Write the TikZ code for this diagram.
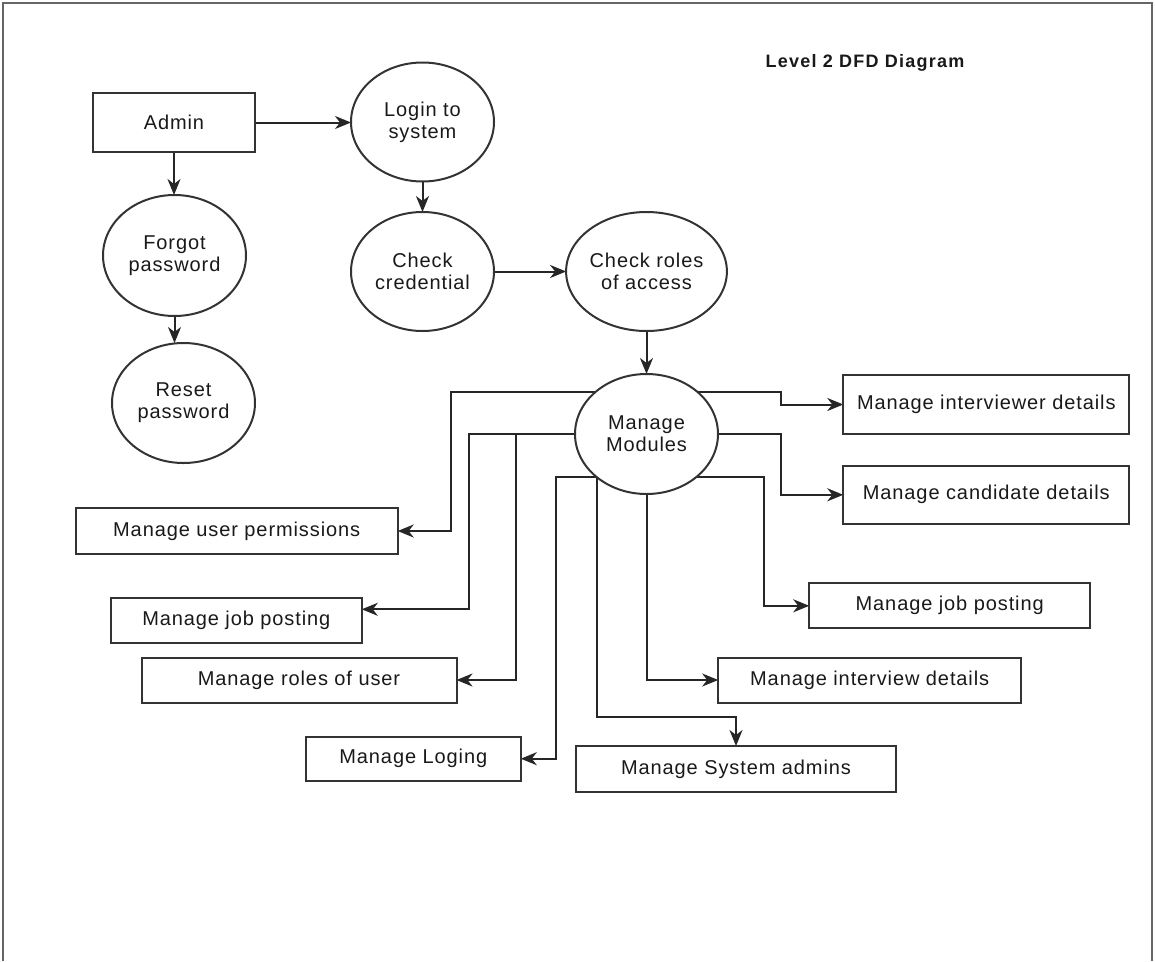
\documentclass[tikz,border=0pt]{standalone}
\usepackage{fontspec}
\setmainfont[LetterSpace=4.5]{Liberation Sans}
\usetikzlibrary{shapes.geometric,arrows.meta,calc}
\pgfdeclarelayer{background}
\pgfsetlayers{background,main}

\tikzset{
  base/.style={draw=black!80, line width=2pt, fill=white, text=black!90,
    font=\fontsize{20}{21.7}\selectfont, align=center, inner sep=0pt, outer sep=0pt},
  proc/.style={base, ellipse, minimum width=143pt, minimum height=120pt},
  ent/.style={base, rectangle},
  flow/.style={draw=black!85, line width=2pt,
    -{Stealth[length=16pt,width=13pt,inset=5pt]}},
}

\begin{document}
\begin{tikzpicture}[x=1pt, y=-1pt]
\useasboundingbox (0,0) rectangle (1155,961);

% open frame round the sheet
\draw[black!60, line width=2.2pt] (3,961) -- (3,3) -- (1152,3) -- (1152,961);

\node[font=\bfseries\fontsize{18}{20}\selectfont\addfontfeature{LetterSpace=7}, text=black!90] (title) at (865,63) {Level 2 DFD Diagram};

% entry and authentication processes
\node[ent, minimum width=162pt, minimum height=59pt] (admin) at (174,122.5) {Admin};
\node[proc, minimum height=119pt] (login) at (422.5,122) {Login to\\system};
\node[proc, minimum height=121pt] (forgot) at (174.5,255.5) {Forgot\\password};
\node[proc] (reset) at (183.5,403) {Reset\\password};
\node[proc, minimum height=119pt] (cred) at (422.5,271.5) {Check\\credential};
\node[proc, minimum height=119pt] (roles) at (646.5,271.5) {Check roles\\of access};
\node[proc] (modules) at (646.5,434) {Manage\\Modules};

% managed modules
\node[ent, minimum width=322pt, minimum height=46pt] (userperm) at (236.7,531) {Manage user permissions};
\node[ent, minimum width=251pt, minimum height=45pt] (jobL) at (236.3,620.3) {Manage job posting};
\node[ent, minimum width=315pt, minimum height=45pt] (rolesuser) at (299,680) {Manage roles of user};
\node[ent, minimum width=215pt, minimum height=44pt] (loging) at (413.3,758.7) {Manage Loging};
\node[ent, minimum width=320pt, minimum height=46pt] (sysadm) at (736,769) {Manage System admins};
\node[ent, minimum width=303pt, minimum height=45pt] (intdet) at (869.7,680) {Manage interview details};
\node[ent, minimum width=281pt, minimum height=45pt] (jobR) at (949.7,605.8) {Manage job posting};
\node[ent, minimum width=286pt, minimum height=58pt] (cand) at (986.3,494.8) {Manage candidate details};
\node[ent, minimum width=286pt, minimum height=59pt] (intvw) at (986.3,404.5) {Manage interviewer details};

% bend points of the module connectors
\coordinate (b1) at (451,392);
\coordinate (b2) at (469,434);
\coordinate (b3) at (516,434);
\coordinate (b4) at (556,476.7);
\coordinate (b7) at (764,476.7);
\coordinate (b8) at (780.7,434);
\coordinate (b9) at (780.7,392);

\begin{pgfonlayer}{background}
  \draw[flow] (admin.east) -- (admin.east -| login.west);
  \draw[flow] (admin.south) -- (admin.south |- forgot.north);
  \draw[flow] (forgot.south) -- (forgot.south |- reset.north);
  \draw[flow] (login.south) -- (cred.north);
  \draw[flow] (cred.east) -- (roles.west);
  \draw[flow] (roles.south) -- (modules.north);

  \draw[flow] ([yshift=42pt]modules.center) -- (b1) |- (userperm.east);
  \draw[flow] (modules.center) -- (b2) |- ([yshift=11pt]jobL.east);
  \draw[flow] (modules.center) -- (b3) |- (rolesuser.east);
  \draw[flow] ([yshift=-42.7pt]modules.center) -- (b4) |- (loging.east);
  \draw[flow] ([xshift=-49.8pt]modules.center) |- ([yshift=28.7pt]sysadm.north) -- (sysadm.north);
  \draw[flow] (modules.center) |- (intdet.west);
  \draw[flow] ([yshift=-42.7pt]modules.center) -- (b7) |- (jobR.west);
  \draw[flow] (modules.center) -- (b8) |- (cand.west);
  \draw[flow] ([yshift=42pt]modules.center) -- (b9) |- (intvw.west);
\end{pgfonlayer}
\end{tikzpicture}
\end{document}
